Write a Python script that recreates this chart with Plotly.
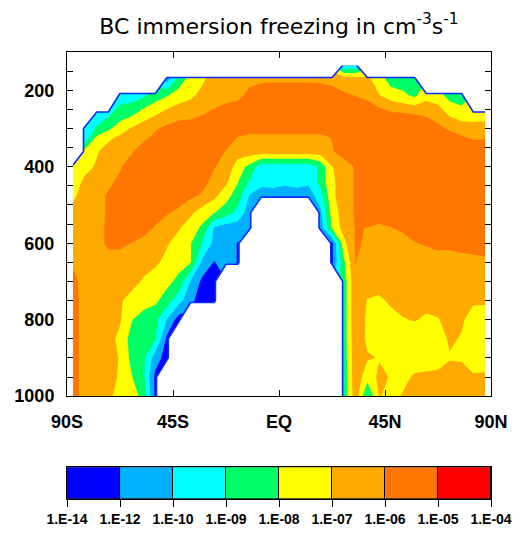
import numpy as np
import plotly.graph_objects as go

N = None

# latitude grid (deg, south negative) and pressure levels (hPa)
LAT = [-87.5, -82.5, -77.5, -72.5, -67.5, -62.5, -57.5, -52.5, -47.5, -42.5,
       -37.5, -32.5, -27.5, -22.5, -17.5, -12.5, -7.5, -2.5, 2.5, 7.5,
       12.5, 17.5, 22.5, 27.5, 32.5, 37.5, 42.5, 47.5, 52.5, 57.5,
       62.5, 67.5, 72.5, 77.5, 82.5, 87.5]
PRES = [135, 170, 213, 262, 300, 324, 360, 400, 440, 475, 520, 560, 600,
        650, 700, 750, 800, 850, 900, 950, 1000]

# log10 of BC immersion freezing rate (cm-3 s-1); None = no data
p135 = [N] * 23 + [-10.1, -10.1] + [N] * 11
p170 = [N] * 8 + [-11.0, -8.7, -7.5, -7.2, -6.5, -6.4, -6.3, -6.2, -6.15, -6.15, -6.15,
                  -6.15, -6.15, -6.2, -6.3, -6.4, -6.5, -6.8, -7.5, -8.5, -8.5, -8.6] + [N] * 6
p213 = [N] * 4 + [-9.5, -9.5, -9.2, -8.5, -8.1, -7.5, -7.2, -6.7, -6.5, -6.4, -6.2, -5.8,
                  -5.6, -5.5, -5.5, -5.5, -5.5, -5.5, -5.6, -5.9, -6.02, -6.2, -6.95, -7.5,
                  -7.8, -8.2, -7.4, -7.6, -8.4, -8.5] + [N] * 2
p262 = [N, N, -9.6, -9.2, -8.5, -8.2, -7.5, -7.1, -6.6, -6.4, -6.3, -6.05, -5.8,
        -5.5, -5.5, -5.5, -5.5, -5.5, -5.5, -5.5, -5.5, -5.5, -5.5, -5.5, -5.5, -5.5, -5.5,
        -5.8, -5.9, -6.02, -6.1, -6.4, -7.2, -7.6, -7.5, -7.3]
p300 = [N, -9.7, -8.9, -8.2, -7.5, -6.9, -6.5, -6.1, -5.8,
        -5.5, -5.5, -5.5, -5.5, -5.5, -5.5, -5.5, -5.5, -5.5, -5.5, -5.5, -5.5, -5.5, -5.5,
        -5.5, -5.5, -5.5, -5.5, -5.5, -5.5, -5.5,
        -5.6, -5.8, -6.1, -6.4, -6.6, -6.7]
p324 = [N, -9.8, -7.8, -7.2, -6.8, -6.5, -6.2, -5.8, -5.5, -5.5, -5.5, -5.5, -5.5, -5.5,
        -6.05, -6.3, -6.3, -6.3, -6.3, -6.3, -6.3, -6.3, -5.95,
        -5.5, -5.5, -5.5, -5.5, -5.5, -5.5, -5.5, -5.5, -5.5, -5.7, -5.9, -6.1, -6.05]
p360 = [N, -7.7, -7.1, -6.6, -6.4, -6.1, -5.5, -5.5, -5.5, -5.5, -5.5, -5.5, -5.5,
        -6.05, -6.5, -6.5, -6.5, -6.5, -6.5, -6.5, -6.5, -6.5, -6.1,
        -5.5, -5.5, -5.5, -5.5, -5.5, -5.5, -5.5, -5.5, -5.5, -5.5, -5.5, -5.5, -5.5]
p400 = [-7.8, -7.3, -6.9, -6.5, -6.1, -5.5, -5.5, -5.5, -5.5, -5.5, -5.5, -5.5,
        -5.95, -6.3, -7.5, -8.3, -9.6, -9.6, -9.6, -9.6, -9.6, -8.8, -7.05, -6.5, -5.9,
        -5.5, -5.5, -5.5, -5.5, -5.5, -5.5, -5.5, -5.5, -5.5, -5.5, -5.5]
p440 = [-7.5, -6.8, -6.5, -6.2, -5.8, -5.5, -5.5, -5.5, -5.5, -5.5, -5.5, -5.7,
        -6.3, -6.8, -7.95, -9.1, -9.7, -9.6, -9.8, -9.6, -9.8, -8.7, -7.2, -6.5, -5.9,
        -5.5, -5.5, -5.5, -5.5, -5.5, -5.5, -5.5, -5.5, -5.5, -5.5, -5.5]
p475 = [-7.2, -6.6, -6.3, -5.9, -5.5, -5.5, -5.5, -5.5, -5.5, -5.5, -5.8, -6.1,
        -6.7, -7.6, -8.5, -10.1, -11.0, -11.0, -11.0, -11.0, -11.0, -9.5, -7.2, -6.5, -5.9,
        -5.5, -5.5, -5.5, -5.5, -5.5, -5.5, -5.5, -5.5, -5.5, -5.5, -5.5]
p520 = [-6.7, -6.5, -6.3, -5.9, -5.5, -5.5, -5.5, -5.5, -5.9, -6.2, -6.8, -7.5,
        -7.95, -8.5, -9.3, -11.0, N, N, N, N, N, -10.5, -7.6, -6.5, -5.9,
        -5.5, -5.5, -5.5, -5.5, -5.5, -5.5, -5.5, -5.5, -5.5, -5.5, -5.5]
p560 = [-6.6, -6.5, -6.2, -5.9, -5.6, -5.6, -5.6, -6.1, -6.5, -6.9, -7.5, -8.2,
        -10.2, -11.0, -11.0, -11.5, N, N, N, N, N, -11.5, -7.9, -6.6, -5.95,
        -6.02, -6.2, -6.02, -5.9, -5.6, -5.6, -5.6, -5.6, -5.6, -5.6, -5.6]
p600 = [-6.7, -6.5, -6.2, -5.9, -5.8, -6.02, -6.3, -6.6, -6.9, -7.4, -7.95, -9.05,
        -10.5, -11.0, -12.1, N, N, N, N, N, N, N, -12.5, -7.3, -5.9,
        -6.1, -6.4, -6.3, -6.2, -6.05, -5.9, -5.7, -5.7, -5.7, -5.7, -5.7]
p650 = [-6.1, -6.6, -6.5, -6.2, -6.4, -6.6, -6.7, -6.8, -7.3, -7.6, -7.95, -10.5,
        -12.1, -11.0, -12.1, N, N, N, N, N, N, N, -12.5, -8.2, -5.98,
        -6.3, -6.5, -6.5, -6.5, -6.5, -6.5, -6.5, -6.5, -6.3, -6.2, -6.15]
p700 = [-5.7, -6.4, -6.5, -6.5, -6.5, -6.7, -7.1, -7.5, -7.7, -8.3, -10.1, -12.5,
        -13.0, N, N, N, N, N, N, N, N, N, N, -8.6, -6.1,
        -6.5, -6.5, -6.5, -6.5, -6.5, -6.5, -6.5, -6.5, -6.5, -6.5, -6.5]
p750 = [-5.7, -6.3, -6.5, -6.6, -6.9, -7.3, -7.5, -7.8, -8.5, -9.6, -11.5, -13.0,
        -13.5, N, N, N, N, N, N, N, N, N, N, -8.6, -6.1,
        -7.05, -7.2, -6.8, -6.7, -6.7, -6.8, -6.6, -6.5, -6.6, -6.9, -6.9]
p800 = [-5.7, -6.3, -6.5, -6.6, -6.9, -7.95, -8.5, -8.7, -10.1, -13.0,
        N, N, N, N, N, N, N, N, N, N, N, N, N, -8.6, -6.1,
        -7.2, -7.6, -7.4, -7.05, -6.95, -7.1, -7.05, -6.7, -6.9, -7.3, -7.3]
p850 = [-5.7, -6.3, -6.5, -6.7, -7.2, -8.4, -8.6, -8.9, -12.5,
        N, N, N, N, N, N, N, N, N, N, N, N, N, N, -8.6, -6.2,
        -7.2, -7.6, -7.6, -7.5, -7.5, -7.5, -7.3, -6.9, -7.05, -7.5, -7.4]
p900 = [-5.7, -6.3, -6.5, -6.7, -7.05, -8.3, -8.8, -11.0, -13.0,
        N, N, N, N, N, N, N, N, N, N, N, N, N, N, -8.6, -6.3,
        -6.9, -7.05, -7.4, -7.6, -7.4, -7.5, -7.3, -7.05, -7.05, -7.4, -7.3]
p950 = [-5.7, -6.3, -6.4, -6.7, -7.1, -7.95, -8.8, -12.5,
        N, N, N, N, N, N, N, N, N, N, N, N, N, N, N, -8.7, -6.3,
        -7.6, -6.8, -7.05, -7.2, -6.9, -6.8, -6.8, -6.7, -6.8, -6.9, -6.9]
p1000 = [-5.7, -6.3, -6.5, -6.8, -7.3, -7.6, -8.3, -12.5,
         N, N, N, N, N, N, N, N, N, N, N, N, N, N, N, -8.8, -6.4,
         -9.05, -6.95, -7.2, -6.95, -6.7, -6.7, -6.7, -6.7, -6.7, -6.7, -6.7]

LOG_RATE = [p135, p170, p213, p262, p300, p324, p360, p400, p440, p475, p520,
            p560, p600, p650, p700, p750, p800, p850, p900, p950, p1000]

# contour levels (log10) and colour bands
LEVELS = [-14, -12, -10, -9, -8, -7, -6, -5, -4]
LEVEL_LABELS = ["1.E-14", "1.E-12", "1.E-10", "1.E-09", "1.E-08",
                "1.E-07", "1.E-06", "1.E-05", "1.E-04"]
COLORS = ["#0000FF", "#00B0FF", "#00FFFF", "#00FF66", "#FFFF00",
          "#FFAA00", "#FF7700", "#FF0000"]
EDGE_COLOR = "#0A28FF"

# map the (unevenly spaced) levels onto evenly spaced band indices
nlev = len(LEVELS)
z_idx = []
for row in LOG_RATE:
    z_idx.append([None if v is None else float(np.interp(v, LEVELS, np.arange(nlev)))
                  for v in row])
# data / no-data mask (used to outline the missing-value area)
mask = [[0 if v is None else 1 for v in row] for row in LOG_RATE]

# step colour scale: below first level -> white, then one colour per band
allc = ["#FFFFFF"] + COLORS + [COLORS[-1]]
ncs = len(allc) - 1
cscale = []
for k, c in enumerate(allc):
    cscale.append([max(0.0, (k - 0.5) / ncs), c])
    cscale.append([min(1.0, (k + 0.5) / ncs), c])

FONT = "Liberation Sans, Arial, Helvetica, sans-serif"

fig = go.Figure()
fig.add_trace(go.Contour(
    x=LAT, y=PRES, z=z_idx,
    autocontour=False,
    contours=dict(start=0, end=nlev - 1, size=1, coloring="fill", showlines=False),
    colorscale=cscale, showscale=False, connectgaps=False,
    line=dict(width=0, smoothing=0), hoverinfo="skip", showlegend=False,
))
# thin outline of the missing-data region
fig.add_trace(go.Contour(
    x=LAT, y=PRES, z=mask,
    autocontour=False,
    contours=dict(start=0.9, end=0.9, size=1, coloring="none"),
    line=dict(color=EDGE_COLOR, width=1.6, smoothing=0),
    showscale=False, hoverinfo="skip", showlegend=False,
))

# horizontal label bar
fig.add_trace(go.Bar(
    x=list(range(len(COLORS))), y=[1] * len(COLORS), width=1,
    marker=dict(color=COLORS, line=dict(color="black", width=1)),
    xaxis="x2", yaxis="y2", showlegend=False, hoverinfo="skip",
))

H = 539
top, bot = 52, 35
plot_h = H - top - bot
main_bottom = (H - bot - 400) / plot_h
bar_top = (504 - 472) / plot_h

fig.update_layout(
    width=524, height=H, autosize=False, showlegend=False,
    margin=dict(l=67, r=27, t=top, b=bot, pad=0),
    paper_bgcolor="white", plot_bgcolor="white",
    title=dict(text="BC immersion freezing in cm<sup>-3</sup>s<sup>-1</sup>",
               x=0.5, xref="paper", xanchor="center",
               y=1 - 26 / H, yref="container", yanchor="middle",
               font=dict(family="DejaVu Sans, sans-serif", size=22, color="black")),
    xaxis=dict(domain=[0, 1], anchor="y", range=[-90, 90],
               tickvals=[-90, -45, 0, 45, 90],
               ticktext=["90S", "45S", "EQ", "45N", "90N"],
               ticks="inside", ticklen=6, tickwidth=1, tickcolor="black",
               mirror="ticks", showline=True, linecolor="black", linewidth=1,
               showgrid=False, zeroline=False, ticklabelstandoff=9,
               tickfont=dict(family=FONT, size=18, color="black", weight="bold")),
    yaxis=dict(domain=[main_bottom, 1], anchor="x", range=[1000, 100],
               tickvals=[200, 400, 600, 800, 1000],
               ticks="inside", ticklen=6, tickwidth=1, tickcolor="black",
               minor=dict(dtick=50, tick0=0, ticks="inside", ticklen=6,
                          tickwidth=1, tickcolor="black", showgrid=False),
               mirror="ticks", showline=True, linecolor="black", linewidth=1,
               showgrid=False, zeroline=False, ticklabelstandoff=8,
               tickfont=dict(family=FONT, size=18, color="black", weight="bold")),
    xaxis2=dict(domain=[0, 1], anchor="y2", range=[-0.5, len(COLORS) - 0.5],
                tickvals=[i - 0.5 for i in range(len(LEVELS))],
                ticktext=LEVEL_LABELS,
                ticks="outside", ticklen=7, tickwidth=1, tickcolor="black",
                showline=True, mirror=True, linecolor="black", linewidth=1,
                showgrid=False, zeroline=False,
                tickfont=dict(family=FONT, size=14, color="black", weight="bold")),
    yaxis2=dict(domain=[0, bar_top], anchor="x2", range=[0, 1],
                showticklabels=False, ticks="", showline=True, mirror=True,
                linecolor="black", linewidth=1, showgrid=False, zeroline=False),
    bargap=0,
)

fig.write_html("out.html", include_plotlyjs=True, full_html=True,
               config={"displayModeBar": False},
               post_script="document.body.style.margin='0px';")
